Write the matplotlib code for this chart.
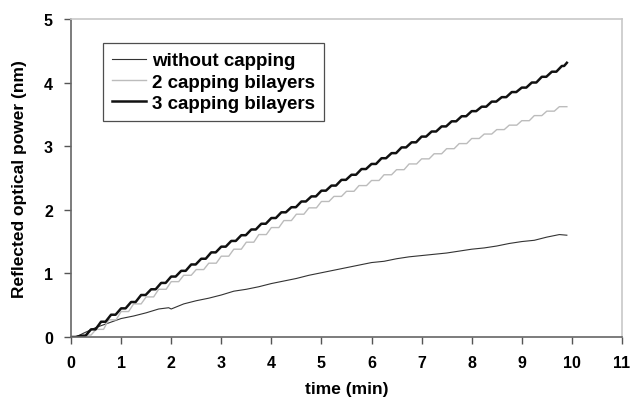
import matplotlib
matplotlib.use("Agg")
from matplotlib import pyplot as plt

plt.rcParams['font.family'] = ['Liberation Sans', 'DejaVu Sans']
plt.rcParams['font.weight'] = 'bold'

# without capping (noisy trace)
t_none = [0, 0.1, 0.25, 0.5, 0.75, 1.0, 1.25, 1.5, 1.75, 1.95, 2.0, 2.25, 2.5, 2.75,
          3.0, 3.25, 3.5, 3.75, 4.0, 4.25, 4.5, 4.75, 5.0, 5.25, 5.5, 5.75, 6.0,
          6.25, 6.5, 6.75, 7.0, 7.25, 7.5, 7.75, 8.0, 8.25, 8.5, 8.75, 9.0, 9.25,
          9.5, 9.75, 9.9]
y_none = [0, 0.0, 0.06, 0.15, 0.22, 0.29, 0.33, 0.38, 0.44, 0.46, 0.44, 0.52, 0.57, 0.61,
          0.66, 0.72, 0.75, 0.79, 0.84, 0.88, 0.92, 0.97, 1.01, 1.05, 1.09, 1.13, 1.17,
          1.19, 1.23, 1.26, 1.28, 1.30, 1.32, 1.35, 1.38, 1.40, 1.43, 1.47, 1.50, 1.52,
          1.57, 1.61, 1.60]

# 2 capping bilayers (one plateau every 0.25 min)
t_two = [0, 0.25, 0.5, 0.75, 1.0, 1.25, 1.5, 1.75, 2.0, 2.25, 2.5, 2.75, 3.0, 3.25,
         3.5, 3.75, 4.0, 4.25, 4.5, 4.75, 5.0, 5.25, 5.5, 5.75, 6.0, 6.25, 6.5, 6.75,
         7.0, 7.25, 7.5, 7.75, 8.0, 8.25, 8.5, 8.75, 9.0, 9.25, 9.5, 9.75, 9.9]
y_two = [0, 0.03, 0.12, 0.27, 0.40, 0.52, 0.63, 0.75, 0.87, 0.97, 1.06, 1.16, 1.27, 1.38,
         1.49, 1.61, 1.72, 1.83, 1.93, 2.03, 2.13, 2.21, 2.29, 2.38, 2.46, 2.55, 2.63, 2.72,
         2.80, 2.88, 2.96, 3.04, 3.12, 3.19, 3.26, 3.33, 3.40, 3.48, 3.55, 3.62, 3.62]

# 3 capping bilayers (one plateau every 0.2 min)
t_three = [0, 0.2, 0.4, 0.6, 0.8, 1.0, 1.2, 1.4, 1.6, 1.8, 2.0, 2.2, 2.4, 2.6, 2.8,
           3.0, 3.2, 3.4, 3.6, 3.8, 4.0, 4.2, 4.4, 4.6, 4.8, 5.0, 5.2, 5.4, 5.6, 5.8,
           6.0, 6.2, 6.4, 6.6, 6.8, 7.0, 7.2, 7.4, 7.6, 7.8, 8.0, 8.2, 8.4, 8.6, 8.8,
           9.0, 9.2, 9.4, 9.6, 9.8, 9.9]
y_three = [0, 0.02, 0.12, 0.24, 0.35, 0.45, 0.55, 0.66, 0.75, 0.85, 0.95, 1.04, 1.14, 1.23, 1.33,
           1.42, 1.51, 1.60, 1.69, 1.78, 1.87, 1.96, 2.04, 2.13, 2.21, 2.30, 2.38, 2.47, 2.55, 2.64,
           2.72, 2.81, 2.89, 2.98, 3.06, 3.15, 3.23, 3.31, 3.39, 3.47, 3.55, 3.62, 3.70, 3.77, 3.85,
           3.92, 4.00, 4.09, 4.17, 4.26, 4.31]


def plateaus(t, y, flat=0.55):
    # flat part of each step followed by a sloped rise to the next level
    xs, ys = [], []
    for i in range(len(t) - 1):
        xs += [t[i], t[i] + flat * (t[i + 1] - t[i])]
        ys += [y[i], y[i]]
    xs.append(t[-1])
    ys.append(y[-1])
    return xs, ys


fig = plt.figure(figsize=(6.34, 4.06), dpi=100)
ax = fig.add_axes([0.112, 0.1675, 0.869, 0.7835])

ax.plot(t_none, y_none, color="#333333", linewidth=0.8, label="without capping")
x2, y2 = plateaus(t_two, y_two, 0.6)
ax.plot(x2, y2, color="#bcbcbc", linewidth=1.0, label="2 capping bilayers")
x3, y3 = plateaus(t_three, y_three, 0.45)
ax.plot(x3, y3, color="#111111", linewidth=1.8, label="3 capping bilayers")

ax.set_xlim(0, 11)
ax.set_ylim(0, 5)
ax.set_xticks(range(0, 12))
ax.set_yticks(range(0, 6))
ax.tick_params(direction="out", length=5, width=1, colors="#555555",
               labelcolor="black", labelsize=11.5, pad=8)
for lab in ax.get_xticklabels() + ax.get_yticklabels():
    lab.set_fontweight("bold")

for side in ["left", "bottom"]:
    ax.spines[side].set_color("#666666")
    ax.spines[side].set_linewidth(1.2)
for side in ["top", "right"]:
    ax.spines[side].set_color("#c8c8c8")
    ax.spines[side].set_linewidth(1.2)

ax.set_xlabel("time (min)", fontsize=12.5, fontweight="bold", labelpad=8)
ax.set_ylabel("Reflected optical power (nm)", fontsize=12.5, fontweight="bold", labelpad=12)

leg = ax.legend(loc="upper left", bbox_to_anchor=(0.058, 0.925), fontsize=13.5,
                frameon=True, fancybox=False, handlelength=1.8, handletextpad=0.3,
                borderpad=0.5, labelspacing=0.22, borderaxespad=0)
leg.get_frame().set_edgecolor("#222222")
leg.get_frame().set_linewidth(0.9)
for txt in leg.get_texts():
    txt.set_fontweight("bold")

fig.savefig("out.png", dpi=100)
